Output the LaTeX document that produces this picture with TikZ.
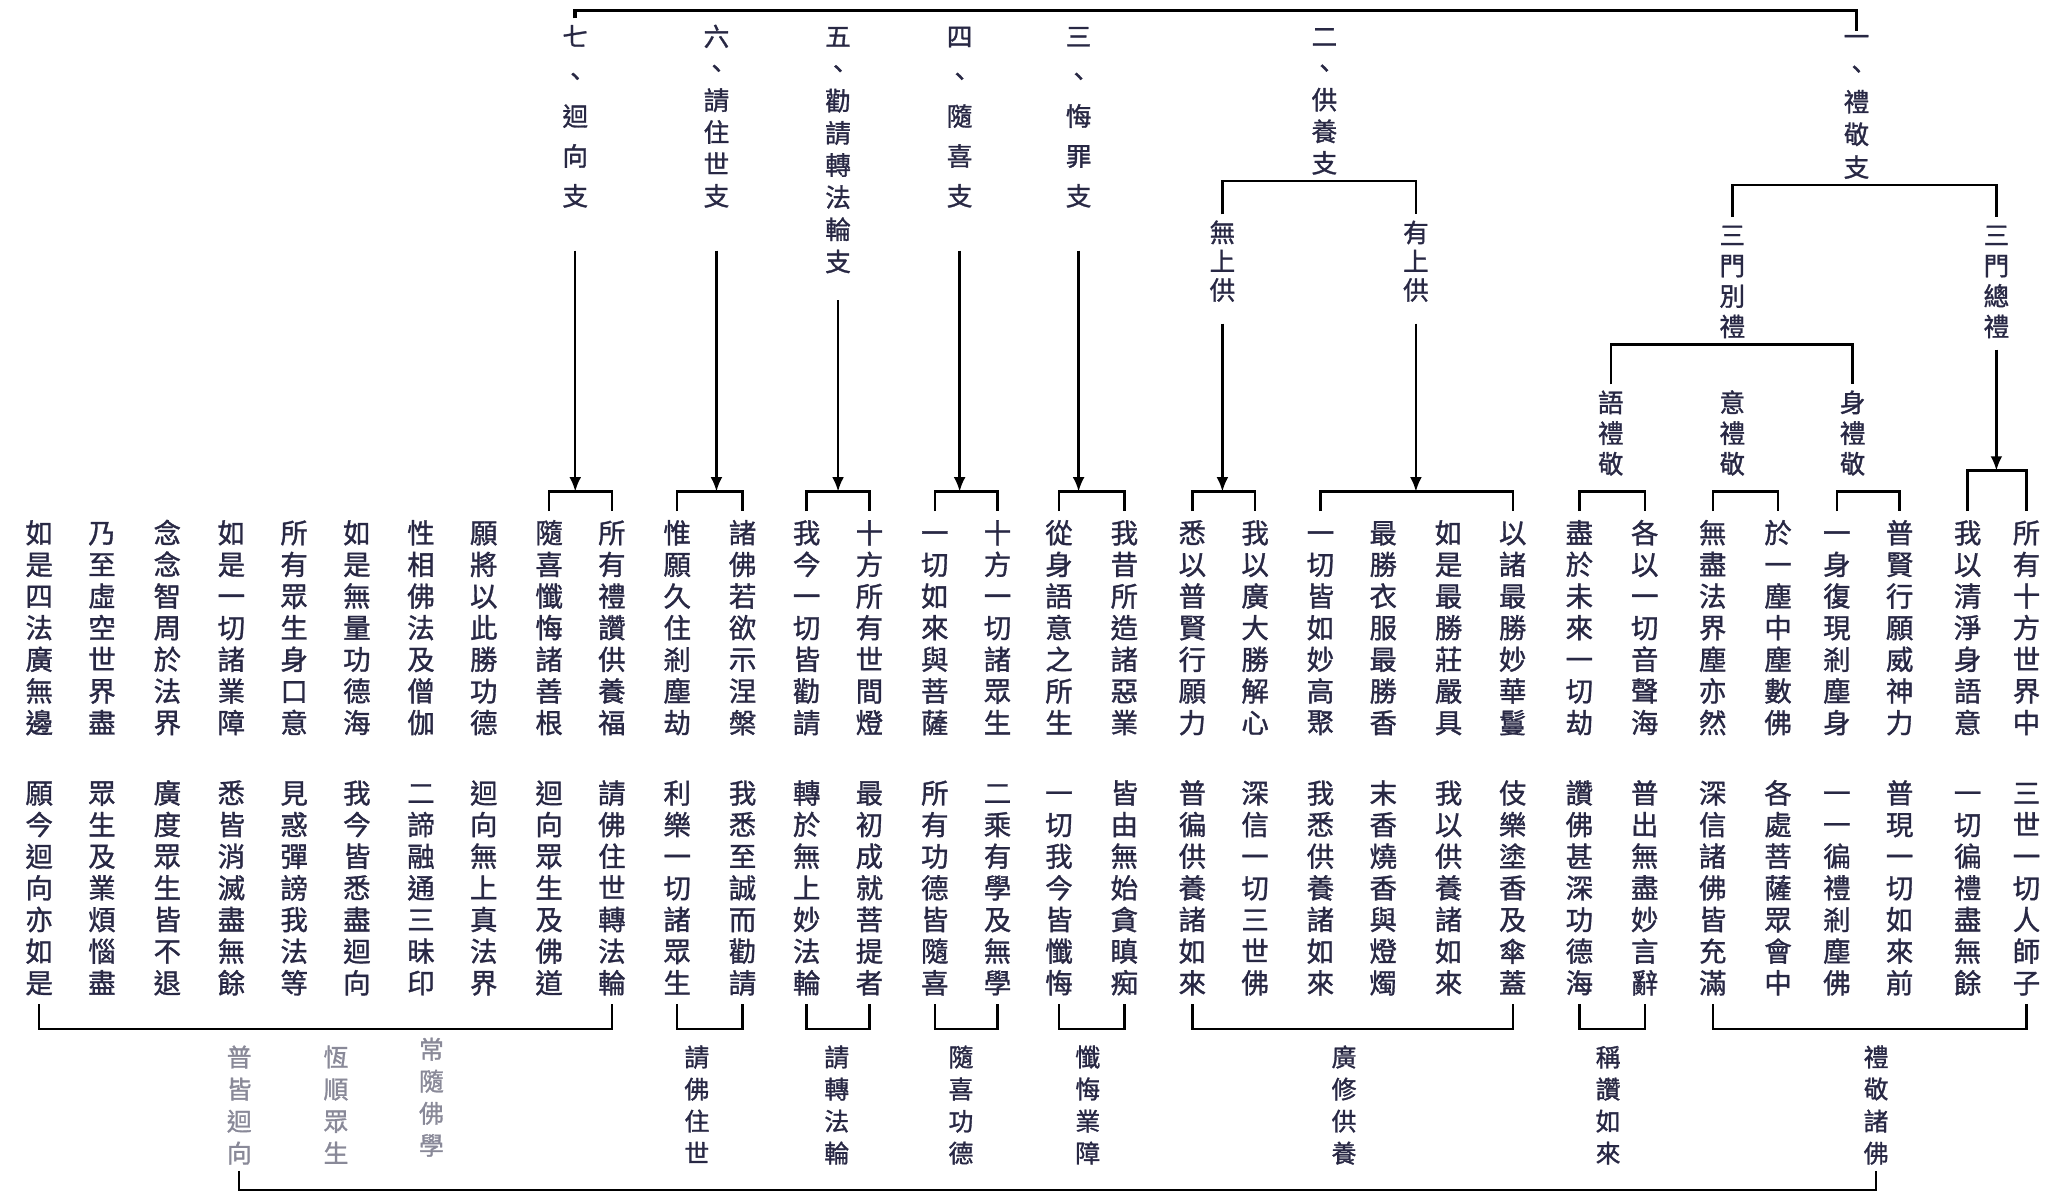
\documentclass[tikz,border=0pt]{standalone}
\usepackage{fontspec}
\newfontfamily\cjk[FakeBold=1.2]{Noto Sans CJK TC}
\usepackage{xcolor}
\usepackage{tikz}
\usetikzlibrary{arrows.meta,calc,positioning}
\definecolor{ink}{RGB}{40,40,68}
\makeatletter
\newcommand{\vtxt}[1]{\expandafter\vtxt@i#1\@nil}
\def\vtxt@c#1{\vrule height.88em depth.12em width0pt\relax#1}
\def\vtxt@i#1#2\@nil{\vtxt@c{#1}\ifx\relax#2\relax\else\\\vtxt@i#2\@nil\fi}
\makeatother

\begin{document}
\begin{tikzpicture}[x=0.5pt,y=-0.5pt,line width=0.9pt,
  hd/.style={inner sep=0pt,outer sep=2pt,text=ink,align=center,anchor=north,font=\cjk\fontsize{9.8pt}{#1}\selectfont},
  verse/.style={inner sep=0pt,outer sep=3pt,text=ink,align=center,anchor=north,font=\cjk\fontsize{10.5pt}{12.1pt}\selectfont},
  lbl/.style={inner sep=0pt,outer sep=2pt,text=#1,align=center,anchor=north,font=\cjk\fontsize{9.5pt}{12.25pt}\selectfont},
  lbl/.default=ink,
  arr/.style={-{Latex[length=5.5pt,width=4.5pt]},shorten <=#1},
  arr/.default=14pt]
  \useasboundingbox (0,0) rectangle (1568,916);
  \coordinate (top) at (0,8);
  \coordinate (bt) at (0,376);
  \coordinate (bz) at (0,360);
  \coordinate (bb) at (0,787);
  \coordinate (bbar) at (0,910);

  % seven branches
  \foreach \nm/\x/\ttl/\p in {h7/440/七、迴向支/15.25pt, h6/548/六、請住世支/12.2pt, h5/641/五、勸請轉法輪支/12.3pt,
      h4/734/四、隨喜支/15.25pt, h3/825/三、悔罪支/15.25pt, h2/1013/二、供養支/12.1pt, h1/1420/一、禮敬支/12.5pt}
    \node[hd=\p] (\nm) at (\x,14) {\vtxt{\ttl}};
  \node[hd=11pt] (wsg) at (935,164) {\vtxt{無上供}};
  \node[hd=11pt] (ysg) at (1083,164) {\vtxt{有上供}};
  \node[hd=11.65pt] (smb) at (1325,166) {\vtxt{三門別禮}};
  \node[hd=11.65pt] (smz) at (1527,166) {\vtxt{三門總禮}};
  \node[hd=11.75pt] (yu) at (1232,294) {\vtxt{語禮敬}};
  \node[hd=11.75pt] (yi) at (1325,294) {\vtxt{意禮敬}};
  \node[hd=11.75pt] (shen) at (1417,294) {\vtxt{身禮敬}};

  % verses
  \foreach \x/\va/\vb [count=\i] in {1550/所有十方世界中/三世一切人師子, 1505/我以清淨身語意/一切徧禮盡無餘,
      1453/普賢行願威神力/普現一切如來前, 1405/一身復現剎塵身/一一徧禮剎塵佛, 1360/於一塵中塵數佛/各處菩薩眾會中,
      1310/無盡法界塵亦然/深信諸佛皆充滿, 1258/各以一切音聲海/普出無盡妙言辭, 1208/盡於未來一切劫/讚佛甚深功德海,
      1157/以諸最勝妙華鬘/伎樂塗香及傘蓋, 1108/如是最勝莊嚴具/我以供養諸如來, 1058/最勝衣服最勝香/末香燒香與燈燭,
      1010/一切皆如妙高聚/我悉供養諸如來, 960/我以廣大勝解心/深信一切三世佛, 912/悉以普賢行願力/普徧供養諸如來,
      860/我昔所造諸惡業/皆由無始貪瞋痴, 810/從身語意之所生/一切我今皆懺悔, 763/十方一切諸眾生/二乘有學及無學,
      715/一切如來與菩薩/所有功德皆隨喜, 665/十方所有世間燈/最初成就菩提者, 617/我今一切皆勸請/轉於無上妙法輪,
      568/諸佛若欲示涅槃/我悉至誠而勸請, 518/惟願久住剎塵劫/利樂一切諸眾生, 468/所有禮讚供養福/請佛住世轉法輪,
      420/隨喜懺悔諸善根/迴向眾生及佛道, 370/願將以此勝功德/迴向無上真法界, 322/性相佛法及僧伽/二諦融通三昧印,
      273/如是無量功德海/我今皆悉盡迴向, 225/所有眾生身口意/見惑彈謗我法等, 177/如是一切諸業障/悉皆消滅盡無餘,
      128/念念智周於法界/廣度眾生皆不退, 78/乃至虛空世界盡/眾生及業煩惱盡, 30/如是四法廣無邊/願今迴向亦如是}{
    \node[verse] (u\i) at (\x,391) {\vtxt{\va}};
    \node[verse] (l\i) at (\x,590) {\vtxt{\vb}};
  }

  \draw[line width=1.4pt] (h7.north) -- (h7.north |- top) -| ([yshift=-5pt]h1.north);
  \foreach \h/\a/\b in {h7/24/23, h6/22/21, h4/18/17, h3/16/15}{
    \draw[arr] (\h.south) -- (\h.south |- bt);
    \draw (u\a.north) -- (u\a.north |- bt) -| (u\b.north);
  }
  \draw[arr=8pt] (h5.south) -- (h5.south |- bt);
  \draw (u20.north) -- (u20.north |- bt) -| (u19.north);
  \draw (wsg.north) |- (h2.south) -| (ysg.north);
  \draw[arr=6pt] (wsg.south) -- (wsg.south |- bt);
  \draw (u14.north) -- (u14.north |- bt) -| (u13.north);
  \draw[arr=6pt] (ysg.south) -- (ysg.south |- bt);
  \draw (u12.north) -- (u12.north |- bt) -| (u9.north);
  \draw (smb.north) |- (h1.south) -| (smz.north);
  \draw (yu.north) |- (smb.south) -| (shen.north);
  \draw[arr=2pt] (smz.south) -- (smz.south |- bz);
  \draw (u2.north) -- (u2.north |- bz) -| (u1.north);
  \foreach \a/\b in {8/7, 6/5, 4/3}
    \draw (u\a.north) -- (u\a.north |- bt) -| (u\b.north);

  % ten great vows
  \foreach \a/\b in {32/23, 22/21, 20/19, 18/17, 16/15, 14/9, 8/7, 6/1}
    \draw (l\a.south) -- (l\a.south |- bb) -| (l\b.south);
  \node[lbl=ink!55] (pjhx) at (183,795) {\vtxt{普皆迴向}};
  \node[lbl=ink!55] (hszs) at (257,795) {\vtxt{恆順眾生}};
  \node[lbl=ink!55] (csfx) at (330,789) {\vtxt{常隨佛學}};
  \node[lbl] (qfzs) at (533,795) {\vtxt{請佛住世}};
  \node[lbl] (qzfl) at (640,795) {\vtxt{請轉法輪}};
  \node[lbl] (sxgd) at (735,795) {\vtxt{隨喜功德}};
  \node[lbl] (chyz) at (832,795) {\vtxt{懺悔業障}};
  \node[lbl] (gxgy) at (1028,795) {\vtxt{廣修供養}};
  \node[lbl] (czrl) at (1230,795) {\vtxt{稱讚如來}};
  \node[lbl] (ljzf) at (1435,795) {\vtxt{禮敬諸佛}};
  \draw (pjhx.south) -- (pjhx.south |- bbar) -| (ljzf.south);
\end{tikzpicture}
\end{document}
